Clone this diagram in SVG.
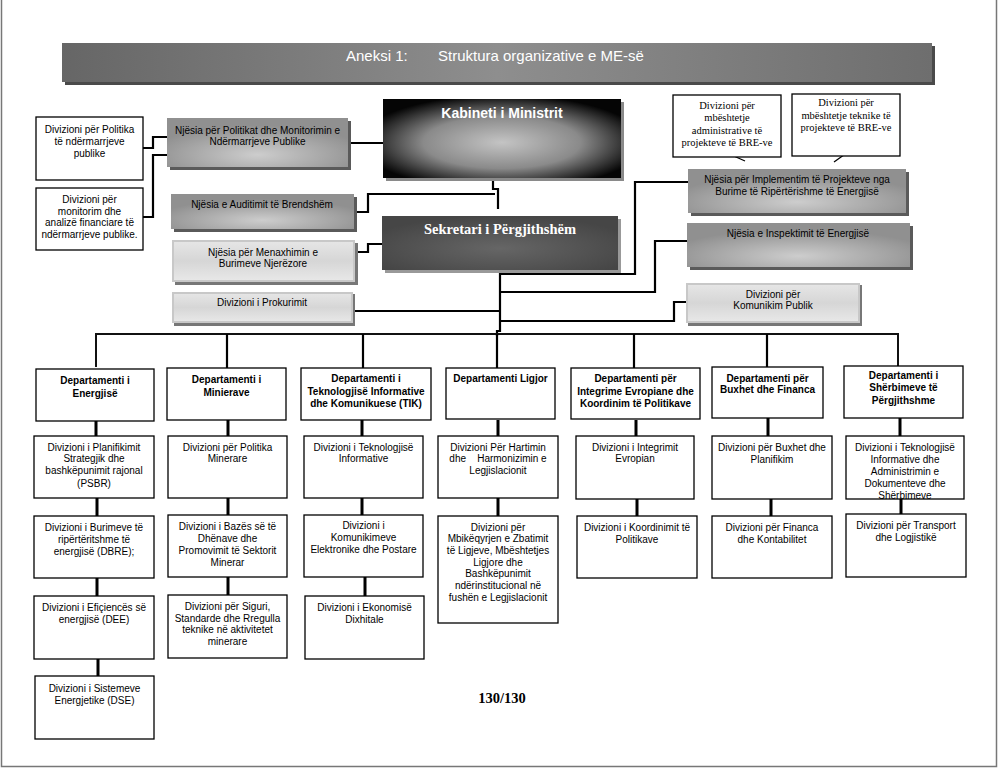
<svg xmlns="http://www.w3.org/2000/svg" width="998" height="770" viewBox="0 0 998 770">
<defs>
<linearGradient id="gTitle" x1="0" y1="0" x2="1" y2="0">
<stop offset="0" stop-color="#666"/><stop offset="0.5" stop-color="#8e8e8e"/><stop offset="1" stop-color="#6e6e6e"/>
</linearGradient>
<radialGradient id="gKab" cx="0.5" cy="0.55" r="0.6">
<stop offset="0" stop-color="#c4c4c4"/><stop offset="0.55" stop-color="#8a8a8a"/><stop offset="1" stop-color="#050505"/>
</radialGradient>
<radialGradient id="gSek" cx="0.5" cy="0.6" r="0.6">
<stop offset="0" stop-color="#666"/><stop offset="1" stop-color="#464646"/>
</radialGradient>
<radialGradient id="gGray" cx="0.5" cy="0.75" r="0.6">
<stop offset="0" stop-color="#cdcdcd"/><stop offset="1" stop-color="#909090"/>
</radialGradient>
<linearGradient id="gLight" x1="0" y1="0" x2="0" y2="1">
<stop offset="0" stop-color="#e6e6e6"/><stop offset="0.5" stop-color="#d6d6d6"/><stop offset="1" stop-color="#e8e8e8"/>
</linearGradient>
</defs>
<style>
.t{font-family:"Liberation Sans",Arial,sans-serif;font-size:10px;fill:#000;text-anchor:middle}
.b{font-weight:bold}
.s{font-family:"Liberation Serif","Times New Roman",serif;font-size:10.5px;fill:#000;text-anchor:middle}
.box{fill:#fff;stroke:#000;stroke-width:1.3}
.gray{fill:url(#gGray)}
.light{fill:url(#gLight);stroke:#c8c8c8;stroke-width:2}
.sh{fill:#5a5a5a}
.shl{fill:#777}
.c{fill:none;stroke:#000;stroke-width:2.2}
.v{fill:none;stroke:#000;stroke-width:3}
</style>
<path d="M1.5,0 V766.5 H996.5 V0" fill="none" stroke="#777" stroke-width="1.5"/>

<g id="title">
<rect x="65" y="46" width="870" height="39" fill="#4a4a4a"/>
<rect x="62" y="43" width="870" height="39" fill="url(#gTitle)"/>
<text x="346" y="61" style="font-family:'Liberation Sans',Arial,sans-serif;font-size:15px;fill:#fff">Aneksi 1:</text>
<text x="438" y="61" style="font-family:'Liberation Sans',Arial,sans-serif;font-size:15px;fill:#fff">Struktura organizative e ME-së</text>
</g>

<g id="connectors">
<path class="c" d="M143,148 H153 V137 H167"/>
<path class="c" d="M143,217 H153 V155 H167"/>
<path class="c" d="M348,143 H383"/>
<path class="c" d="M493,178 V189 H498 V209"/>
<path class="c" d="M354,212 H368 V194 H495"/>
<path class="c" d="M355,252 H368 V244 H382"/>
<path class="c" d="M353,311 H500"/>
<path class="c" d="M500,270 V331 H497 V336"/>
<path class="c" d="M688,182 H635 V274 H500"/>
<path class="c" d="M687,241 H655 V292 H500"/>
<path class="c" d="M686,302 H674 V321 H500"/>
<path d="M727,153 L745,161" fill="none" stroke="#000" stroke-width="1.3"/>
<path d="M848,152 L834,162" fill="none" stroke="#000" stroke-width="1.3"/>
<path d="M96,367 V334 H898 V366" fill="none" stroke="#111" stroke-width="2"/>
<path class="c" d="M227,334 V368 M363,334 V368 M497,334 V368 M634,334 V368 M767,334 V367"/>
<path class="v" d="M96,421 V436 M97,498 V516 M97,578 V596 M98,659 V676"/>
<path class="v" d="M228,420 V436 M228,498 V515 M228,577 V595"/>
<path class="v" d="M362,420 V436 M362,498 V515 M365,577 V596"/>
<path class="v" d="M498,420 V436 M498,498 V516"/>
<path class="v" d="M636,420 V436 M637,499 V516"/>
<path class="v" d="M768,418 V436 M771,499 V516"/>
<path class="v" d="M900,418 V436 M901,499 V514"/>
</g>

<g id="kabineti">
<rect x="386" y="102" width="238" height="79" fill="#8a8a8a"/>
<rect x="383" y="99" width="238" height="79" fill="url(#gKab)"/>
<text x="502" y="118" style="font-family:'Liberation Sans',Arial,sans-serif;font-size:14px;font-weight:bold;fill:#fff;text-anchor:middle">Kabineti i Ministrit</text>
</g>

<g id="sekretari">
<rect x="385" y="219" width="236" height="54" fill="#999"/>
<rect x="382" y="216" width="236" height="54" fill="url(#gSek)"/>
<text x="500" y="234" style="font-family:'Liberation Serif','Times New Roman',serif;font-size:14.5px;font-weight:bold;fill:#fff;text-anchor:middle">Sekretari i Përgjithshëm</text>
</g>

<g id="njesia-politikat">
<rect class="sh" x="170" y="121" width="181" height="49"/>
<rect class="gray" x="167" y="118" width="181" height="49"/>
<text class="t" x="257.5" y="133.5">Njësia për Politikat dhe Monitorimin e</text>
<text class="t" x="257.5" y="144.5">Ndërmarrjeve Publike</text>
</g>

<g id="div-politika">
<rect class="box" x="36" y="117" width="107" height="63"/>
<text class="t" x="89.5" y="132.5">Divizioni për Politika</text>
<text class="t" x="89.5" y="144.5">të ndërmarrjeve</text>
<text class="t" x="89.5" y="156.5">publike</text>
</g>

<g id="div-monitorim">
<rect class="box" x="36" y="188" width="107" height="62"/>
<text class="t" x="89.5" y="202.5">Divizioni për</text>
<text class="t" x="89.5" y="214.5">monitorim dhe</text>
<text class="t" x="89.5" y="226">analizë financiare të</text>
<text class="t" x="89.5" y="238">ndërmarrjeve publike.</text>
</g>

<g id="auditimi">
<rect class="sh" x="174" y="197" width="183" height="35"/>
<rect class="gray" x="171" y="194" width="183" height="35"/>
<text class="t" x="262" y="207.5">Njësia e Auditimit të Brendshëm</text>
</g>

<g id="menaxhimi">
<rect class="shl" x="175" y="243" width="183" height="42"/>
<rect class="light" x="173" y="241" width="181" height="40"/>
<text class="t" x="263" y="255.5">Njësia për Menaxhimin e</text>
<text class="t" x="263" y="266.5">Burimeve Njerëzore</text>
</g>

<g id="prokurimi">
<rect class="shl" x="174" y="294" width="181" height="32"/>
<rect class="light" x="173" y="293" width="179" height="29"/>
<text class="t" x="262" y="305.5">Divizioni i Prokurimit</text>
</g>

<g id="div-admin-bre">
<rect class="box" x="673" y="95" width="108" height="62"/>
<text class="s" x="727" y="108.5">Divizioni për</text>
<text class="s" x="727" y="120.5">mbështetje</text>
<text class="s" x="727" y="133.5">administrative të</text>
<text class="s" x="727" y="145.5">projekteve të BRE-ve</text>
</g>

<g id="div-teknike-bre">
<rect class="box" x="792" y="94" width="108" height="62"/>
<text class="s" x="846" y="105.5">Divizioni për</text>
<text class="s" x="846" y="118.5">mbështetje teknike të</text>
<text class="s" x="846" y="130.5">projekteve të BRE-ve</text>
</g>

<g id="implementim">
<rect class="sh" x="691" y="172" width="218" height="44"/>
<rect class="gray" x="688" y="169" width="218" height="44"/>
<text class="t" x="797" y="182.5">Njësia për Implementim të Projekteve nga</text>
<text class="t" x="797" y="194.5">Burime të Ripërtërishme të Energjisë</text>
</g>

<g id="inspektim">
<rect class="sh" x="690" y="226" width="223" height="44"/>
<rect class="gray" x="687" y="223" width="223" height="44"/>
<text class="t" x="798" y="236.5">Njësia e Inspektimit të Energjisë</text>
</g>

<g id="komunikim">
<rect class="shl" x="688" y="285" width="174" height="41"/>
<rect class="light" x="687" y="284" width="172" height="38"/>
<text class="t" x="773" y="297.5">Divizioni për</text>
<text class="t" x="773" y="308.5">Komunikim Publik</text>
</g>

<g id="dep-energjise">
<rect class="box" x="36" y="369" width="118" height="52"/>
<text class="t b" x="95" y="383.5">Departamenti i</text>
<text class="t b" x="95" y="396.5">Energjisë</text>
</g>
<g id="dep-minierave">
<rect class="box" x="167" y="368" width="119" height="52"/>
<text class="t b" x="226.5" y="382.5">Departamenti i</text>
<text class="t b" x="226.5" y="395.5">Minierave</text>
</g>
<g id="dep-tik">
<rect class="box" x="301" y="368" width="130" height="52"/>
<text class="t b" x="366" y="381.5">Departamenti i</text>
<text class="t b" x="366" y="394.5">Teknologjisë Informative</text>
<text class="t b" x="366" y="406.5">dhe Komunikuese (TIK)</text>
</g>
<g id="dep-ligjor">
<rect class="box" x="446" y="368" width="109" height="51"/>
<text class="t b" x="500.5" y="381.5">Departamenti Ligjor</text>
</g>
<g id="dep-integrime">
<rect class="box" x="571" y="368" width="129" height="51"/>
<text class="t b" x="635.5" y="381.5">Departamenti për</text>
<text class="t b" x="635.5" y="394.5">Integrime Evropiane dhe</text>
<text class="t b" x="635.5" y="406.5">Koordinim të Politikave</text>
</g>
<g id="dep-buxhet">
<rect class="box" x="712" y="367" width="111" height="51"/>
<text class="t b" x="767.5" y="381.5">Departamenti për</text>
<text class="t b" x="767.5" y="392.5">Buxhet dhe Financa</text>
</g>
<g id="dep-sherbimeve">
<rect class="box" x="844" y="366" width="119" height="52"/>
<text class="t b" x="903.5" y="378.5">Departamenti i</text>
<text class="t b" x="903.5" y="390.5">Shërbimeve të</text>
<text class="t b" x="903.5" y="403.5">Përgjithshme</text>
</g>

<g id="div-psbr">
<rect class="box" x="34" y="436" width="120" height="62"/>
<text class="t" x="94" y="450.5">Divizioni i Planifikimit</text>
<text class="t" x="94" y="461.5">Strategjik dhe</text>
<text class="t" x="94" y="473.5">bashkëpunimit rajonal</text>
<text class="t" x="94" y="486.5">(PSBR)</text>
</g>
<g id="div-politika-minerare">
<rect class="box" x="168" y="436" width="119" height="62"/>
<text class="t" x="227.5" y="450.5">Divizioni për Politika</text>
<text class="t" x="227.5" y="461.5">Minerare</text>
</g>
<g id="div-ti">
<rect class="box" x="304" y="436" width="119" height="62"/>
<text class="t" x="363.5" y="450.5">Divizioni i Teknologjisë</text>
<text class="t" x="363.5" y="461.5">Informative</text>
</g>
<g id="div-hartimin">
<rect class="box" x="438" y="436" width="120" height="62"/>
<text class="t" x="498" y="450.5">Divizioni Për Hartimin</text>
<text class="t" x="498" y="461.5" xml:space="preserve">dhe    Harmonizimin e</text>
<text class="t" x="498" y="473.5">Legjislacionit</text>
</g>
<g id="div-integrimit">
<rect class="box" x="576" y="436" width="118" height="63"/>
<text class="t" x="635" y="450.5">Divizioni i Integrimit</text>
<text class="t" x="635" y="461.5">Evropian</text>
</g>
<g id="div-buxhet">
<rect class="box" x="712" y="436" width="120" height="63"/>
<text class="t" x="772" y="450.5">Divizioni për Buxhet dhe</text>
<text class="t" x="772" y="462.5">Planifikim</text>
</g>
<g id="div-ti-admin">
<svg x="846" y="436" width="118" height="63" overflow="hidden">
<text class="t" x="59" y="14.5">Divizioni i Teknologjisë</text>
<text class="t" x="59" y="26.5">Informative dhe</text>
<text class="t" x="59" y="38.5">Administrimin e</text>
<text class="t" x="59" y="50.5">Dokumenteve dhe</text>
<text class="t" x="59" y="62.5">Shërbimeve</text>
</svg>
<rect class="box" x="846" y="436" width="118" height="63" fill="none" style="fill:none"/>
</g>

<g id="div-dbre">
<rect class="box" x="34" y="516" width="120" height="62"/>
<text class="t" x="94" y="530.5">Divizioni i Burimeve të</text>
<text class="t" x="94" y="542.5">ripërtëritshme të</text>
<text class="t" x="94" y="554.5">energjisë (DBRE);</text>
</g>
<g id="div-bazes">
<rect class="box" x="168" y="515" width="119" height="62"/>
<text class="t" x="227.5" y="529.5">Divizioni i Bazës së të</text>
<text class="t" x="227.5" y="541.5">Dhënave dhe</text>
<text class="t" x="227.5" y="553.5">Promovimit të Sektorit</text>
<text class="t" x="227.5" y="565.5">Minerar</text>
</g>
<g id="div-komunikimeve">
<rect class="box" x="304" y="515" width="119" height="62"/>
<text class="t" x="363.5" y="528.5">Divizioni i</text>
<text class="t" x="363.5" y="540.5">Komunikimeve</text>
<text class="t" x="363.5" y="552.5">Elektronike dhe Postare</text>
</g>
<g id="div-mbikeqyrjen">
<rect class="box" x="438" y="516" width="120" height="107"/>
<text class="t" x="498" y="530.5">Divizioni për</text>
<text class="t" x="498" y="542">Mbikëqyrjen e Zbatimit</text>
<text class="t" x="498" y="553.5">të Ligjeve, Mbështetjes</text>
<text class="t" x="498" y="565.5">Ligjore dhe</text>
<text class="t" x="498" y="577">Bashkëpunimit</text>
<text class="t" x="498" y="588.5">ndërinstitucional në</text>
<text class="t" x="498" y="600.5">fushën e Legjislacionit</text>
</g>
<g id="div-koordinimit">
<rect class="box" x="577" y="516" width="120" height="62"/>
<text class="t" x="637" y="530.5">Divizioni i Koordinimit të</text>
<text class="t" x="637" y="542.5">Politikave</text>
</g>
<g id="div-financa">
<rect class="box" x="712" y="516" width="120" height="62"/>
<text class="t" x="772" y="530.5">Divizioni për Financa</text>
<text class="t" x="772" y="542.5">dhe Kontabilitet</text>
</g>
<g id="div-transport">
<rect class="box" x="846" y="514" width="120" height="63"/>
<text class="t" x="906" y="528.5">Divizioni për Transport</text>
<text class="t" x="906" y="540.5">dhe Logjistikë</text>
</g>

<g id="div-dee">
<rect class="box" x="34" y="596" width="120" height="63"/>
<text class="t" x="94" y="610.5">Divizioni i Efiçiencës së</text>
<text class="t" x="94" y="622.5">energjisë (DEE)</text>
</g>
<g id="div-siguri">
<rect class="box" x="168" y="595" width="119" height="63"/>
<text class="t" x="227.5" y="609.5">Divizioni për Siguri,</text>
<text class="t" x="227.5" y="621.5">Standarde dhe Rregulla</text>
<text class="t" x="227.5" y="632.5">teknike në aktivitetet</text>
<text class="t" x="227.5" y="644.5">minerare</text>
</g>
<g id="div-ekonomise">
<rect class="box" x="305" y="596" width="119" height="63"/>
<text class="t" x="364.5" y="610.5">Divizioni i Ekonomisë</text>
<text class="t" x="364.5" y="622.5">Dixhitale</text>
</g>

<g id="div-dse">
<rect class="box" x="35" y="676" width="119" height="63"/>
<text class="t" x="94.5" y="691.5">Divizioni i Sistemeve</text>
<text class="t" x="94.5" y="703.5">Energjetike (DSE)</text>
</g>

<text x="502" y="703" style="font-family:'Liberation Serif','Times New Roman',serif;font-size:14.5px;font-weight:bold;fill:#000;text-anchor:middle">130/130</text>
</svg>
